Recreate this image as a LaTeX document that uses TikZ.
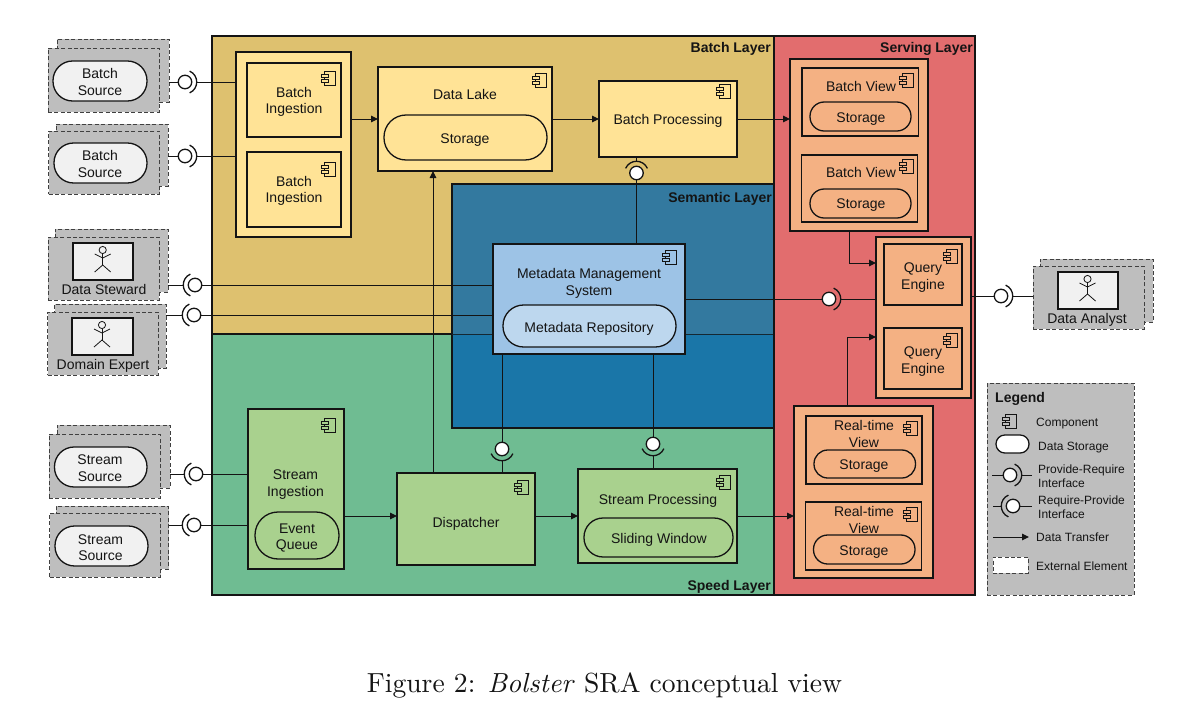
\documentclass[tikz,border=0pt]{standalone}
\usepackage{fontspec}
\setsansfont{Liberation Sans}
\usetikzlibrary{arrows.meta}
\definecolor{batchbg}{HTML}{DEC16F}
\definecolor{batchbox}{HTML}{FFE396}
\definecolor{speedbg}{HTML}{6FBC92}
\definecolor{speedbox}{HTML}{A9D18E}
\definecolor{semtop}{HTML}{33799F}
\definecolor{sembot}{HTML}{1A76A8}
\definecolor{metabox}{HTML}{9DC3E6}
\definecolor{metapill}{HTML}{BDD7EE}
\definecolor{servebg}{HTML}{E26D6E}
\definecolor{servebox}{HTML}{F4B183}
\definecolor{extgrey}{HTML}{BEBEBE}
\definecolor{extpill}{HTML}{F1F1F1}
\definecolor{ink}{HTML}{141414}
\tikzset{
  layerbox/.style={draw=ink,line width=1.4pt,rectangle,inner sep=0pt,outer sep=0pt},
  compbox/.style={draw=ink,line width=1.3pt,rectangle,inner sep=0pt,outer sep=0pt},
  extbox/.style={draw=black!75,line width=1pt,dash pattern=on 4pt off 2.4pt,fill=extgrey,rectangle,inner sep=0pt,outer sep=0pt},
  lbl/.style={font=\sffamily\fontsize{14}{16.6}\selectfont,align=center,inner sep=0pt,text=ink},
  lgd/.style={font=\sffamily\fontsize{12}{14}\selectfont,align=left,inner sep=0pt,anchor=west,text=ink},
  layertitle/.style={font=\sffamily\bfseries\fontsize{14}{16}\selectfont,inner sep=0pt,anchor=east,text=ink},
  link/.style={draw=ink,line width=1pt},
  flow/.style={draw=ink,line width=1pt,-{Triangle[length=7pt,width=6.5pt]}},
  ifcirc/.style={circle,draw=ink,line width=1.3pt,fill=white,minimum size=13.5pt,inner sep=0pt,outer sep=0pt},
  ifarc/.style={draw=ink,line width=1.3pt},
}
% name, style, x1, y1, x2, y2
\newcommand\bx[6]{%
  \pgfmathsetmacro\bxw{#5-(#3)}\pgfmathsetmacro\bxh{#6-(#4)}%
  \pgfmathsetmacro\bxc{(#3+#5)/2}\pgfmathsetmacro\byc{(#4+#6)/2}%
  \node[#2,minimum width=\bxw pt,minimum height=\bxh pt] (#1) at (\bxc,\byc) {};}
\newcommand\pill[6]{%
  \pgfmathsetmacro\bxw{#5-(#3)}\pgfmathsetmacro\bxh{#6-(#4)}%
  \pgfmathsetmacro\bxc{(#3+#5)/2}\pgfmathsetmacro\byc{(#4+#6)/2}%
  \pgfmathsetmacro\bxr{0.49*\bxh}%
  \node[#2,rounded corners=\bxr pt,minimum width=\bxw pt,minimum height=\bxh pt] (#1) at (\bxc,\byc) {};}
% name, x, y, text
\newcommand\tx[4]{\node[lbl] (#1) at (#2,#3) {#4};}
\newcommand\lgdtx[4]{\node[lgd] (#1) at (#2,#3) {#4};}
% colour, left x, top y
\newcommand\cmpicon[3]{%
  \draw[draw=ink,line width=.9pt,fill=#1] (#2+3.5,#3) rectangle (#2+14,#3+14);
  \draw[draw=ink,line width=.9pt,fill=#1] (#2,#3+3) rectangle (#2+7,#3+6);
  \draw[draw=ink,line width=.9pt,fill=#1] (#2,#3+8) rectangle (#2+7,#3+11);}
% centre x, head centre y
\newcommand\stickman[2]{%
  \begin{scope}[shift={(#1,#2)},draw=ink,line width=.8pt]
    \draw (0,0) circle[radius=3.6pt];
    \draw (0,3.6) -- (0,15);
    \draw (-8,4) -- (0,8) -- (8,4);
    \draw (-8,22) -- (0,15) -- (8,22);
  \end{scope}}
% name, x, y, rotation of the arc (0 right, 180 left, 90 up, -90 down)
\newcommand\iface[4]{%
  \node[ifcirc] (#1) at (#2,#3) {};
  \begin{scope}[shift={(#2,#3)},rotate=#4]
    \draw[ifarc] (4.6,-10.9) .. controls (14.1,-6.7) and (14.1,6.7) .. (4.6,10.9);
    \coordinate (#1-a) at (11.9,0);
  \end{scope}}
\begin{document}
\begin{tikzpicture}[x=1pt,y=-1pt]
\useasboundingbox (0,0) rectangle (1192,728);
\fill[white] (0,0) rectangle (1192,728);
% ---- layers
\bx{batch}{layerbox,fill=batchbg}{212}{36}{774}{334}
\bx{speed}{layerbox,fill=speedbg}{212}{334}{774}{595}
\fill[semtop] (452,184) rectangle (774,334);
\fill[sembot] (452,334) rectangle (774,428);
\bx{sem}{layerbox}{452}{184}{774}{428}
\draw[draw=ink!80!sembot,line width=1pt] (452,334) -- (774,334);
\bx{serve}{layerbox,fill=servebg}{774}{36}{975}{595}
\node[layertitle] (tbatch) at (771,49) {Batch Layer};
\node[layertitle] (tserve) at (973,49) {Serving Layer};
\node[layertitle] (tsem) at (772,199) {Semantic Layer};
\node[layertitle] (tspeed) at (771,587) {Speed Layer};
% ---- external elements
\bx{s1b}{extbox}{57}{39}{169}{102}
\bx{s1f}{extbox}{48}{48}{159}{112}
\pill{s1p}{draw=ink,line width=1.3pt,fill=extpill,inner sep=0pt}{53}{61}{147}{101}
\tx{s1t}{100}{82}{Batch\\Source}
\bx{s2b}{extbox}{56}{124}{168}{186}
\bx{s2f}{extbox}{48.5}{131}{159.5}{194}
\pill{s2p}{draw=ink,line width=1.3pt,fill=extpill,inner sep=0pt}{54}{143}{147}{183}
\tx{s2t}{100}{164}{Batch\\Source}
\bx{dsb}{extbox}{55}{229}{168}{292}
\bx{dsf}{extbox}{48}{237}{159}{300}
\bx{dsm}{compbox,fill=extpill}{73}{243}{133}{280}
\stickman{102.7}{250}
\tx{dst}{104}{289.5}{Data Steward}
\bx{deb}{extbox}{54.5}{304}{166}{368}
\bx{def}{extbox}{47.5}{312}{158}{375}
\bx{dem}{compbox,fill=extpill}{72}{318}{133}{355}
\stickman{102}{325}
\tx{det}{103}{366}{Domain Expert}
\bx{t1b}{extbox}{57}{425}{170}{488}
\bx{t1f}{extbox}{49}{434}{160}{498}
\pill{t1p}{draw=ink,line width=1.3pt,fill=extpill,inner sep=0pt}{54.5}{447}{147}{487}
\tx{t1t}{100}{468}{Stream\\Source}
\bx{t2b}{extbox}{56}{506}{168.5}{569}
\bx{t2f}{extbox}{49.5}{513}{160.5}{577}
\pill{t2p}{draw=ink,line width=1.3pt,fill=extpill,inner sep=0pt}{55}{526}{148}{566}
\tx{t2t}{100.5}{547.5}{Stream\\Source}
\bx{dab}{extbox}{1040}{259}{1153}{322}
\bx{daf}{extbox}{1033}{266}{1144}{329}
\bx{dam}{compbox,fill=extpill}{1058}{272}{1118}{309}
\stickman{1087.5}{279}
\tx{dat}{1087}{320}{Data Analyst}
% ---- batch layer
\bx{ing}{compbox,fill=batchbox}{236}{52}{351}{237}
\bx{ing1}{compbox,fill=batchbox}{247}{63}{341}{137}
\bx{ing2}{compbox,fill=batchbox}{247}{152}{341}{227}
\cmpicon{batchbox}{321}{71}
\cmpicon{batchbox}{321}{162}
\tx{ing1t}{294}{102}{Batch\\Ingestion}
\tx{ing2t}{294}{191}{Batch\\Ingestion}
\bx{dl}{compbox,fill=batchbox}{378}{67}{552}{171}
\pill{dlp}{compbox,fill=batchbox}{384}{115}{547}{160}
\cmpicon{batchbox}{532}{73}
\tx{dlt}{465}{94}{Data Lake}
\tx{dlpt}{465}{140}{Storage}
\bx{bp}{compbox,fill=batchbox}{599}{81}{737}{157}
\cmpicon{batchbox}{716}{84}
\tx{bpt}{668}{120.5}{Batch Processing}
% ---- semantic layer
\bx{mm}{compbox,fill=metabox}{493}{244}{685}{354}
\pill{mmp}{compbox,fill=metapill}{503}{305}{676}{347}
\cmpicon{metabox}{662}{250}
\tx{mmt}{589}{283.5}{Metadata Management\\System}
\tx{mmpt}{589}{329}{Metadata Repository}
% ---- speed layer
\bx{si}{compbox,fill=speedbox}{248}{409}{344}{569}
\pill{sip}{compbox,fill=speedbox}{255}{512}{339}{559}
\cmpicon{speedbox}{321}{418}
\tx{sit}{295.5}{484.5}{Stream\\Ingestion}
\tx{sipt}{297}{538}{Event\\Queue}
\bx{di}{compbox,fill=speedbox}{397}{473}{535}{565}
\cmpicon{speedbox}{514}{480}
\tx{dit}{466}{524}{Dispatcher}
\bx{sp}{compbox,fill=speedbox}{578}{469}{737}{563}
\pill{spp}{compbox,fill=speedbox}{584}{518}{733}{557}
\cmpicon{speedbox}{716}{475}
\tx{spt}{658}{500.5}{Stream Processing}
\tx{sppt}{659}{540}{Sliding Window}
% ---- serving layer
\bx{bv}{compbox,fill=servebox}{790}{59}{928}{231}
\bx{bv1}{compbox,fill=servebox}{802}{68}{918.5}{136}
\pill{bv1p}{compbox,fill=servebox}{810}{102}{911}{131}
\cmpicon{servebox}{899}{73}
\tx{bv1t}{861}{86}{Batch View}
\tx{bv1s}{861}{119.5}{Storage}
\bx{bv2}{compbox,fill=servebox}{801.5}{155}{917.5}{222}
\pill{bv2p}{compbox,fill=servebox}{810}{189}{911}{218}
\cmpicon{servebox}{899}{159}
\tx{bv2t}{861}{172}{Batch View}
\tx{bv2s}{861}{205}{Storage}
\bx{qe}{compbox,fill=servebox}{876}{237}{971}{398}
\bx{qe1}{compbox,fill=servebox}{884}{244}{962}{305}
\bx{qe2}{compbox,fill=servebox}{884}{328}{962}{389}
\cmpicon{servebox}{943}{249}
\cmpicon{servebox}{943}{333}
\tx{qe1t}{923}{277.5}{Query\\Engine}
\tx{qe2t}{923}{361.5}{Query\\Engine}
\bx{rv}{compbox,fill=servebox}{794}{406}{933}{578}
\bx{rv1}{compbox,fill=servebox}{806}{416}{922}{484}
\pill{rv1p}{compbox,fill=servebox}{814}{450}{915.5}{478}
\cmpicon{servebox}{903}{421}
\tx{rv1t}{864}{434}{Real-time\\View}
\tx{rv1s}{864}{466.5}{Storage}
\bx{rv2}{compbox,fill=servebox}{805.5}{502}{921.5}{570}
\pill{rv2p}{compbox,fill=servebox}{813.5}{535}{915}{564}
\cmpicon{servebox}{903}{507}
\tx{rv2t}{864}{520}{Real-time\\View}
\tx{rv2s}{864}{552}{Storage}
% ---- interfaces
\iface{i1}{185}{82}{0}
\iface{i2}{185}{156}{0}
\iface{i3}{195}{285}{180}
\iface{i4}{194}{315}{180}
\iface{i5}{196}{474}{180}
\iface{i6}{194}{525}{180}
\iface{i7}{829}{299}{0}
\iface{i8}{1001}{296}{0}
\iface{i9}{636.5}{173}{90}
\iface{i10}{502}{449}{-90}
\iface{i11}{653}{444}{-90}
% ---- interface links
\draw[link] (s1b.east |- i1) -- (i1);
\draw[link] (i1-a) -- (ing.west |- i1);
\draw[link] (s2b.east |- i2) -- (i2);
\draw[link] (i2-a) -- (ing.west |- i2);
\draw[link] (dsb.east |- i3) -- (i3-a);
\draw[link] (i3) -- (mm.west |- i3);
\draw[link] (deb.east |- i4) -- (i4-a);
\draw[link] (i4) -- (mm.west |- i4);
\draw[link] (t1b.east |- i5) -- (i5-a);
\draw[link] (i5) -- (si.west |- i5);
\draw[link] (t2b.east |- i6) -- (i6-a);
\draw[link] (i6) -- (si.west |- i6);
\draw[link] (mm.east |- i7) -- (i7);
\draw[link] (i7-a) -- (qe.west |- i7-a);
\draw[link] (qe.east |- i8) -- (i8);
\draw[link] (i8-a) -- (daf.west |- i8-a);
\draw[link] (bp.south -| i9) -- (i9-a);
\draw[link] (i9) -- (mm.north -| i9);
\draw[link] (mm.south -| i10) -- (i10);
\draw[link] (i10-a) -- (di.north -| i10);
\draw[link] (mm.south -| i11) -- (i11);
\draw[link] (i11-a) -- (sp.north -| i11);
% ---- data flows
\draw[flow] (ing.east |- dl.west) -- (dl.west);
\draw[flow] (dl.east) -- (bp.west);
\draw[flow] (bp.east) -- (bv.west |- bp.east);
\coordinate (diup) at (433,473);
\draw[flow] (diup) -- (diup |- dl.south);
\coordinate (sirow) at (344,516);
\draw[flow] (sirow) -- (di.west |- sirow);
\draw[flow] (di.east |- sirow) -- (sp.west |- sirow);
\draw[flow] (sp.east |- sirow) -- (rv.west |- sirow);
\coordinate (bvout) at (849,231);
\coordinate (qin1) at (876,263);
\draw[flow] (bvout) |- (qin1);
\coordinate (rvout) at (847,406);
\coordinate (qin2) at (876,337);
\draw[flow] (rvout) |- (qin2);
% ---- legend
\bx{leg}{extbox}{987}{383}{1134}{595}
\node[font=\sffamily\bfseries\fontsize{14}{16}\selectfont,inner sep=0pt,anchor=west,text=ink] (legt) at (995,399) {Legend};
\cmpicon{extgrey}{1002}{414}
\lgdtx{l1}{1036}{423.5}{Component}
\pill{l2p}{draw=ink,line width=1.3pt,fill=white,inner sep=0pt}{996}{435}{1029}{453}
\lgdtx{l2}{1038}{448}{Data Storage}
\iface{l3i}{1010}{475}{0}
\coordinate (l3a) at (992,475);
\coordinate (l3b) at (1032,475);
\draw[link] (l3a) -- (l3i);
\draw[link] (l3i-a) -- (l3b);
\lgdtx{l3}{1038}{476}{Provide-Require\\Interface}
\iface{l4i}{1013}{506}{180}
\coordinate (l4a) at (993,506);
\coordinate (l4b) at (1032,506);
\draw[link] (l4a) -- (l4i-a);
\draw[link] (l4i) -- (l4b);
\lgdtx{l4}{1038}{507}{Require-Provide\\Interface}
\coordinate (l5a) at (993,537);
\coordinate (l5b) at (1029,537);
\draw[flow] (l5a) -- (l5b);
\lgdtx{l5}{1036}{537.5}{Data Transfer}
\bx{l6b}{extbox,fill=white}{993}{557}{1028}{573}
\lgdtx{l6}{1036}{566}{External Element}
% ---- caption
\node[inner sep=0pt,text=ink] (cap) at (604.5,685.5) {\scalebox{2.76}{\fontsize{10}{12}\selectfont Figure 2: \textit{Bolster} SRA conceptual view}};
\end{tikzpicture}
\end{document}
